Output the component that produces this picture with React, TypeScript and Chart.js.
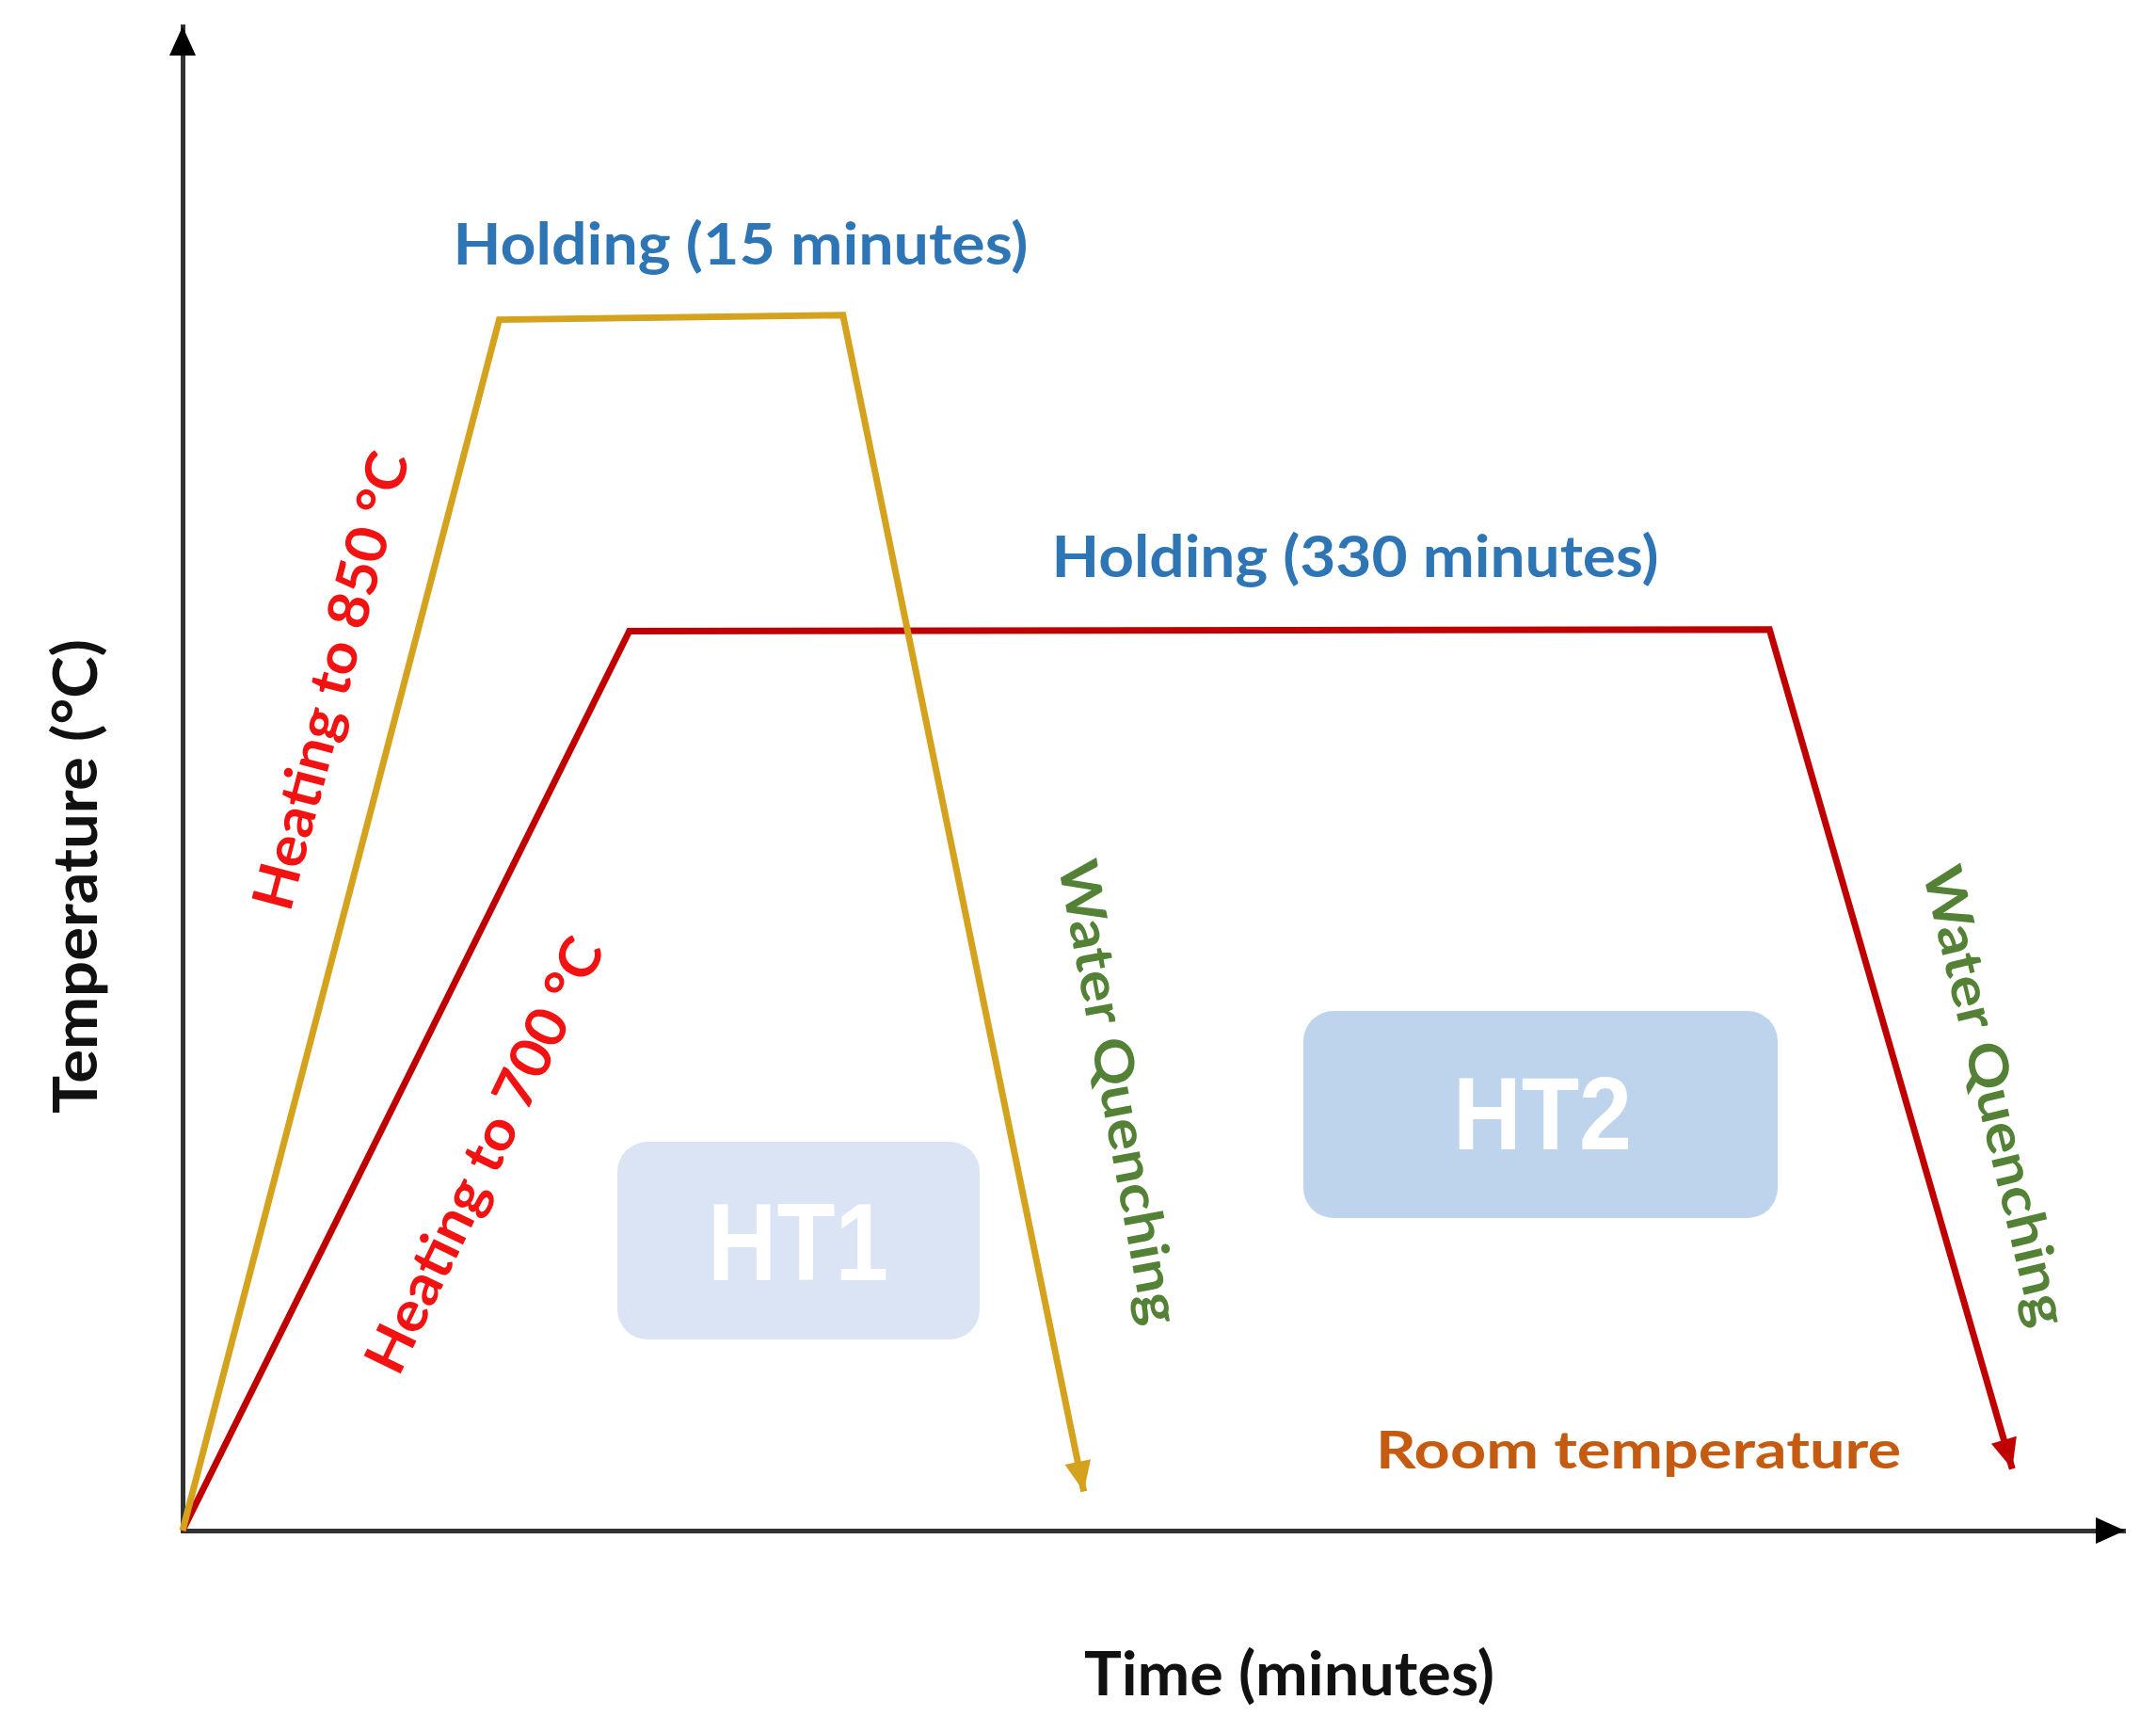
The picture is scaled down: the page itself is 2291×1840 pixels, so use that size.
import React, { useEffect, useRef } from "react";
import { Chart, registerables } from "chart.js";

Chart.register(...registerables);

const W = 2291;
const H = 1840;

// Schematic values (time as % of axis length, temperature as % of axis height)
const ht1Time = [0, 16.3, 34.0, 46.4];
const ht1Temp = [0, 80.5, 80.8, 2.6];
const ht2Time = [0, 23.0, 81.7, 94.2];
const ht2Temp = [0, 59.8, 59.9, 4.1];

const seriesNames = ["HT1", "HT2"];
const xTitle = "Time (minutes)";
const yTitle = "Temperature (°C)";

const FONT = "Lato, 'Open Sans', sans-serif";

type TextSpec = {
  text: string;
  cx: number;
  cy: number;
  angle: number;
  cap: number;
  len: number;
  color: string;
};

const texts: TextSpec[] = [
  { text: "Holding (15 minutes)", cx: 787, cy: 259, angle: 0, cap: 44, len: 611, color: "#2E75B6" },
  { text: "Holding (330 minutes)", cx: 1440, cy: 591, angle: 0, cap: 44, len: 645, color: "#2E75B6" },
  { text: "Heating to 850 °C", cx: 351, cy: 723, angle: -75.3, cap: 43, len: 500, color: "#F21212" },
  { text: "Heating to 700 °C", cx: 514, cy: 1227, angle: -64.2, cap: 43, len: 505, color: "#F21212" },
  { text: "Water Quenching", cx: 1190, cy: 1160, angle: 79.5, cap: 41, len: 500, color: "#538135" },
  { text: "Water Quenching", cx: 2121, cy: 1164, angle: 76.5, cap: 41, len: 500, color: "#538135" },
  { text: "Room temperature", cx: 1741, cy: 1540, angle: 0, cap: 40, len: 558, color: "#C55A11" },
  { text: yTitle, cx: 80, cy: 931, angle: -90, cap: 46, len: 504, color: "#111111" },
  { text: xTitle, cx: 1370, cy: 1778, angle: 0, cap: 46, len: 436, color: "#111111" },
];

type BoxSpec = { label: string; x: number; y: number; w: number; h: number; fill: string; tx: number; ty: number; cap: number; len: number };

const boxes: BoxSpec[] = [
  { label: seriesNames[0], x: 656, y: 1213, w: 385, h: 210, fill: "#DAE4F4", tx: 848, ty: 1318, cap: 84, len: 192 },
  { label: seriesNames[1], x: 1385, y: 1074, w: 504, h: 220, fill: "#BED4EC", tx: 1639, ty: 1182, cap: 78, len: 190 },
];

function drawFitText(ctx: CanvasRenderingContext2D, t: TextSpec, family: string, capRatio: number) {
  const size = t.cap / capRatio;
  ctx.save();
  ctx.font = `bold ${size}px ${family}`;
  const w = ctx.measureText(t.text).width;
  const sx = t.len / w;
  ctx.translate(t.cx, t.cy);
  ctx.rotate((t.angle * Math.PI) / 180);
  ctx.scale(sx, 1);
  ctx.fillStyle = t.color;
  ctx.textAlign = "center";
  ctx.textBaseline = "alphabetic";
  ctx.fillText(t.text, 0, t.cap / 2);
  ctx.restore();
}

function triangle(ctx: CanvasRenderingContext2D, tipX: number, tipY: number, dx: number, dy: number, len: number, half: number, color: string) {
  const n = Math.hypot(dx, dy) || 1;
  const ux = dx / n;
  const uy = dy / n;
  const bx = tipX - ux * len;
  const by = tipY - uy * len;
  ctx.save();
  ctx.fillStyle = color;
  ctx.beginPath();
  ctx.moveTo(tipX, tipY);
  ctx.lineTo(bx - uy * half, by + ux * half);
  ctx.lineTo(bx + uy * half, by - ux * half);
  ctx.closePath();
  ctx.fill();
  ctx.restore();
}

const decorPlugin = {
  id: "decor",
  beforeDraw(chart: any) {
    const ctx = chart.ctx as CanvasRenderingContext2D;
    ctx.save();
    ctx.fillStyle = "#ffffff";
    ctx.fillRect(0, 0, chart.width, chart.height);
    for (const b of boxes) {
      ctx.fillStyle = b.fill;
      ctx.beginPath();
      (ctx as any).roundRect(b.x, b.y, b.w, b.h, 32);
      ctx.fill();
    }
    ctx.restore();
    for (const b of boxes) {
      drawFitText(
        ctx,
        { text: b.label, cx: b.tx, cy: b.ty, angle: 0, cap: b.cap, len: b.len, color: "#ffffff" },
        "'Liberation Sans', Arial, sans-serif",
        0.716
      );
    }
  },
  afterDatasetsDraw(chart: any) {
    const ctx = chart.ctx as CanvasRenderingContext2D;
    chart.data.datasets.forEach((ds: any, i: number) => {
      const meta = chart.getDatasetMeta(i);
      const pts = meta.data;
      const a = pts[pts.length - 2];
      const b = pts[pts.length - 1];
      triangle(ctx, b.x, b.y, b.x - a.x, b.y - a.y, 32, 14, ds.borderColor);
    });
    const area = chart.chartArea;
    triangle(ctx, area.left, area.top, 0, -1, 31, 14, "#000000");
    triangle(ctx, area.right, area.bottom, 1, 0, 31, 14, "#000000");
  },
  afterDraw(chart: any) {
    const ctx = chart.ctx as CanvasRenderingContext2D;
    for (const t of texts) drawFitText(ctx, t, FONT, 0.7165);
  },
};

export default function App() {
  const ref = useRef<HTMLCanvasElement | null>(null);

  useEffect(() => {
    document.body.style.margin = "0";
    const canvas = ref.current;
    if (!canvas) return;
    const chart = new Chart(canvas, {
      type: "line",
      data: {
        datasets: [
          {
            label: seriesNames[0],
            data: ht1Time.map((x, i) => ({ x, y: ht1Temp[i] })),
            borderColor: "#D4A21C",
            borderWidth: 7,
            pointRadius: 0,
            borderJoinStyle: "miter",
            tension: 0,
            clip: false as any,
          },
          {
            label: seriesNames[1],
            data: ht2Time.map((x, i) => ({ x, y: ht2Temp[i] })),
            borderColor: "#C00000",
            borderWidth: 7,
            pointRadius: 0,
            borderJoinStyle: "miter",
            tension: 0,
            clip: false as any,
          },
        ],
      },
      options: {
        responsive: false,
        animation: false,
        devicePixelRatio: 1,
        layout: { padding: { left: 194, top: 28, right: 33, bottom: 214 } },
        plugins: { legend: { display: false }, tooltip: { enabled: false } },
        events: [],
        scales: {
          x: {
            type: "linear",
            min: 0,
            max: 100,
            grid: { display: false, drawTicks: false },
            ticks: { display: false },
            border: { display: true, color: "#333333", width: 5 },
          },
          y: {
            type: "linear",
            min: 0,
            max: 100,
            grid: { display: false, drawTicks: false },
            ticks: { display: false },
            border: { display: true, color: "#333333", width: 5 },
          },
        },
      },
      plugins: [decorPlugin],
    });
    return () => chart.destroy();
  }, []);

  return (
    <div style={{ width: W, height: H, background: "#fff" }}>
      <canvas ref={ref} width={W} height={H} style={{ width: W, height: H, display: "block" }} />
    </div>
  );
}
